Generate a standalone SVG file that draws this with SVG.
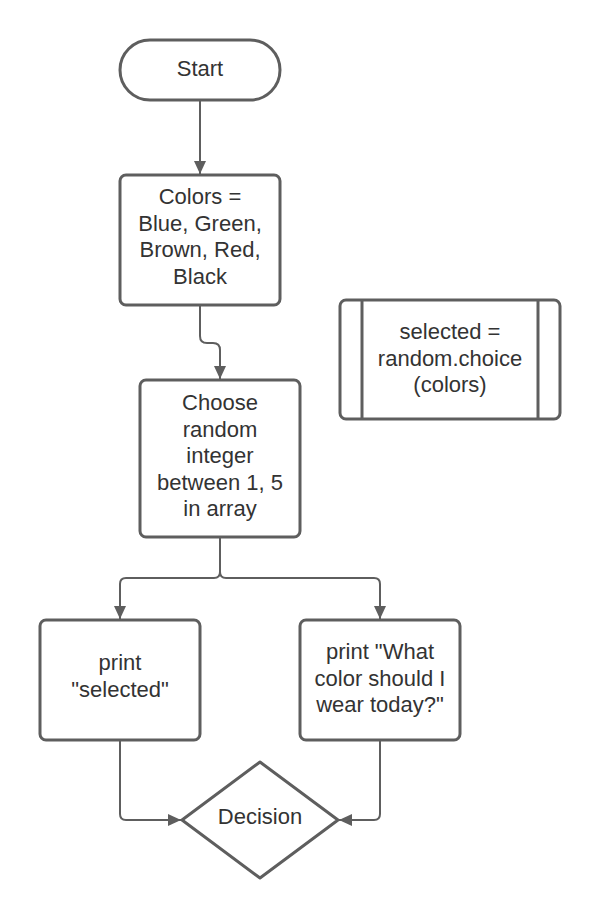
<svg xmlns="http://www.w3.org/2000/svg" width="600" height="920" viewBox="0 0 600 920">
<defs>
<marker id="arr" markerUnits="userSpaceOnUse" markerWidth="14" markerHeight="12" refX="13" refY="6" orient="auto">
<path d="M0,0 L13,6 L0,12 z" fill="#5e5e5e"/>
</marker>
<style>
.shape{fill:#ffffff;stroke:#5e5e5e;stroke-width:3}
.line{fill:none;stroke:#5e5e5e;stroke-width:2}
.conn{fill:none;stroke:#5e5e5e;stroke-width:2;marker-end:url(#arr)}
text{font-family:"Liberation Sans",Arial,sans-serif;font-size:22px;fill:#333333;text-anchor:middle}
</style>
</defs>
<rect width="600" height="920" fill="#ffffff"/>
<g id="connectors">
<path class="conn" d="M200,101 V174"/>
<path class="conn" d="M200,305 V336 Q200,343 207,343 H213 Q220,343 220,350 V379"/>
<path class="conn" d="M220,537 V572 Q220,578 214,578 H126 Q120,578 120,584 V619"/>
<path class="conn" d="M220,537 V572 Q220,578 226,578 H374 Q380,578 380,584 V619"/>
<path class="conn" d="M120,740 V814 Q120,820 126,820 H181"/>
<path class="conn" d="M380,740 V814 Q380,820 374,820 H339"/>
</g>
<g id="start">
<rect class="shape" x="120" y="40" width="160" height="60" rx="30"/>
<text x="200" y="76">Start</text>
</g>
<g id="colors">
<rect class="shape" x="120" y="175" width="160" height="130" rx="6"/>
<text x="200" y="204">Colors =</text>
<text x="200" y="230.5">Blue, Green,</text>
<text x="200" y="257">Brown, Red,</text>
<text x="200" y="283.5">Black</text>
</g>
<g id="choose">
<rect class="shape" x="140" y="380" width="160" height="157" rx="6"/>
<text x="220" y="410">Choose</text>
<text x="220" y="436.5">random</text>
<text x="220" y="463">integer</text>
<text x="220" y="489.5">between 1, 5</text>
<text x="220" y="516">in array</text>
</g>
<g id="selected-process">
<rect class="shape" x="340" y="300" width="220" height="119" rx="6"/>
<line class="shape" x1="362" y1="300" x2="362" y2="419"/>
<line class="shape" x1="538" y1="300" x2="538" y2="419"/>
<text x="450" y="339">selected =</text>
<text x="450" y="365.5">random.choice</text>
<text x="450" y="392">(colors)</text>
</g>
<g id="print-selected">
<rect class="shape" x="40" y="620" width="160" height="120" rx="6"/>
<text x="120" y="670">print</text>
<text x="120" y="696.5">"selected"</text>
</g>
<g id="print-question">
<rect class="shape" x="300" y="620" width="160" height="120" rx="6"/>
<text x="380" y="659">print "What</text>
<text x="380" y="685.5">color should I</text>
<text x="380" y="712">wear today?"</text>
</g>
<g id="decision">
<path class="shape" d="M260,762 L338,820 L260,878 L182,820 Z" stroke-linejoin="round"/>
<text x="260" y="824">Decision</text>
</g>
</svg>
